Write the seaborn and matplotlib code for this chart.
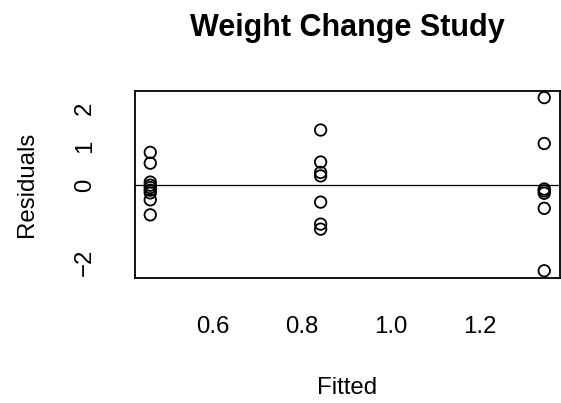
import matplotlib
matplotlib.use('AGG')
import matplotlib.pyplot as plt
import seaborn as sns
import pandas as pd
import numpy as np

# fitted group means and residuals
fitted_levels = [0.458, 0.842, 1.346]
resid_low = [0.85, 0.57, 0.08, 0.0, -0.06, -0.13, -0.2, -0.38, -0.77]
resid_mid = [1.43, 0.6, 0.33, 0.24, -0.44, -1.01, -1.14]
resid_high = [2.27, 1.08, -0.1, -0.15, -0.21, -0.6, -2.22]

x_ticks = [0.6, 0.8, 1.0, 1.2]
y_ticks = [-2, -1, 0, 1, 2]
y_ticklabels = ['\u22122', '', '0', '1', '2']


def make_frame():
    groups = [resid_low, resid_mid, resid_high]
    rows = []
    for fit, res in zip(fitted_levels, groups):
        for r in res:
            rows.append((fit, r))
    return pd.DataFrame(rows, columns=["Fitted", "Residuals"])


def main():
    sns.set_style("white")
    plt.rcParams['font.family'] = ['Liberation Sans', 'DejaVu Sans']
    plt.rcParams['text.color'] = 'black'
    plt.rcParams['axes.labelcolor'] = 'black'

    data = make_frame()

    fig = plt.figure(figsize=(5.61, 4.03), dpi=100)
    ax = fig.add_axes([134.5 / 561, 1 - 277.7 / 403,
                       (560 - 134.5) / 561, (277.7 - 90.7) / 403])

    sns.scatterplot(data=data, x="Fitted", y="Residuals", ax=ax,
                    marker='o', s=68, facecolor='none',
                    edgecolor='black', linewidth=1.3)
    ax.axhline(0, color='black', linewidth=0.9)
    ax.margins(x=0.04, y=0.04)

    ax.set_xticks(x_ticks)
    ax.set_xticklabels([f"{t:.1f}" for t in x_ticks])
    ax.set_yticks(y_ticks)
    ax.set_yticklabels(y_ticklabels, rotation=90, va='center')

    ax.tick_params(direction='out', length=10.8, width=1.3, colors='black',
                   labelsize=17.3, pad=17)
    for sp in ax.spines.values():
        sp.set_color('black')
        sp.set_linewidth(1.3)

    ax.set_xlabel("Fitted", fontsize=17.3, labelpad=28, color='black')
    ax.set_ylabel("Residuals", fontsize=17.3, labelpad=26, color='black')
    fig.text(347 / 561, 1 - 36 / 403, "Weight Change Study", color='black',
             ha='center', va='baseline', fontsize=22, fontweight='bold')

    plt.savefig("out.png", dpi=100)


if __name__ == "__main__":
    main()
